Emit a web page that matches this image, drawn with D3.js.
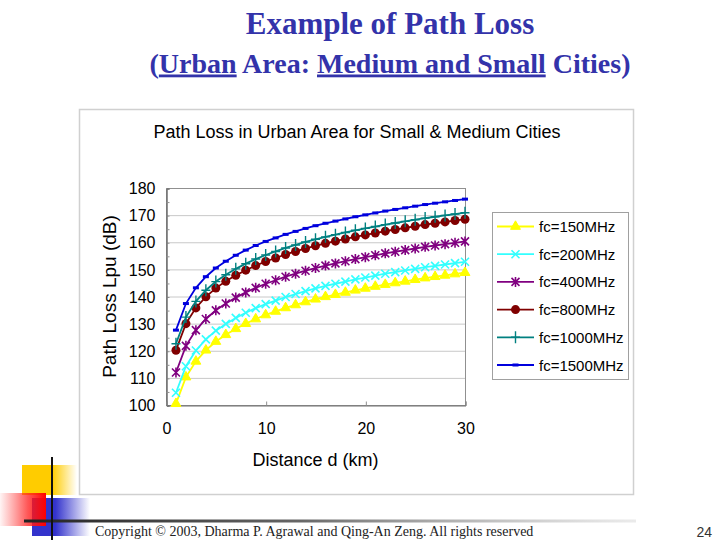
<!DOCTYPE html>
<html>
<head>
<meta charset="utf-8">
<script src="https://d3js.org/d3.v7.min.js"></script>
<style>
  body { margin: 0; background: #fff; }
</style>
</head>
<body>
<div id="chart"></div>
<script>
// distance in km (one marker per km)
var distance = [1, 2, 3, 4, 5, 6, 7, 8, 9, 10, 11, 12, 13, 14, 15,
                16, 17, 18, 19, 20, 21, 22, 23, 24, 25, 26, 27, 28, 29, 30];

// path loss (dB)
var loss150 = [100.5, 110.3, 116.1, 120.2, 123.4, 125.9, 128.1, 130.0, 131.7, 133.2, 134.5, 135.8, 136.9, 138.0, 139.0,
               139.9, 140.7, 141.5, 142.3, 143.0, 143.7, 144.4, 145.0, 145.6, 146.2, 146.8, 147.3, 147.8, 148.3, 148.8];
var loss200 = [104.5, 114.3, 120.1, 124.2, 127.4, 129.9, 132.1, 134.0, 135.7, 137.2, 138.5, 139.8, 140.9, 142.0, 143.0,
               143.9, 144.7, 145.5, 146.3, 147.0, 147.7, 148.4, 149.0, 149.6, 150.2, 150.8, 151.3, 151.8, 152.3, 152.8];
var loss400 = [112.0, 121.8, 127.6, 131.7, 134.9, 137.4, 139.6, 141.5, 143.2, 144.7, 146.0, 147.3, 148.4, 149.5, 150.5,
               151.4, 152.2, 153.0, 153.8, 154.5, 155.2, 155.9, 156.5, 157.1, 157.7, 158.3, 158.8, 159.3, 159.8, 160.3];
var loss800 = [120.2, 130.0, 135.8, 139.9, 143.1, 145.6, 147.8, 149.7, 151.4, 152.9, 154.2, 155.5, 156.6, 157.7, 158.7,
               159.6, 160.4, 161.2, 162.0, 162.7, 163.4, 164.1, 164.7, 165.3, 165.9, 166.5, 167.0, 167.5, 168.0, 168.5];
var loss1000 = [122.6, 132.4, 138.2, 142.3, 145.5, 148.0, 150.2, 152.1, 153.8, 155.3, 156.6, 157.9, 159.0, 160.1, 161.1,
                162.0, 162.8, 163.6, 164.4, 165.1, 165.8, 166.5, 167.1, 167.7, 168.3, 168.9, 169.4, 169.9, 170.4, 170.9];
var loss1500 = [127.6, 137.4, 143.2, 147.3, 150.5, 153.0, 155.2, 157.1, 158.8, 160.3, 161.6, 162.9, 164.0, 165.1, 166.1,
                167.0, 167.8, 168.6, 169.4, 170.1, 170.8, 171.5, 172.1, 172.7, 173.3, 173.9, 174.4, 174.9, 175.4, 175.9];

var seriesNames = ["fc=150MHz", "fc=200MHz", "fc=400MHz", "fc=800MHz", "fc=1000MHz", "fc=1500MHz"];
var seriesValues = [loss150, loss200, loss400, loss800, loss1000, loss1500];
var seriesColors = ["#ffff00", "#33ffff", "#800080", "#800000", "#008080", "#0000dd"];
var markerTypes = ["triangle", "cross", "star", "circle", "plus", "dash"];

var yTicks = [100, 110, 120, 130, 140, 150, 160, 170, 180];
var yMinor = [105, 115, 125, 135, 145, 155, 165, 175];
var xTicks = [0, 10, 20, 30];

var sans = "'Liberation Sans', Arial, sans-serif";
var serif = "'Liberation Serif', 'Times New Roman', serif";

var svg = d3.select("#chart")
  .append("svg")
    .attr("width", 720)
    .attr("height", 540)
    .style("background", "#fff");

var defs = svg.append("defs");
function hGrad(id, stops) {
  var g = defs.append("linearGradient").attr("id", id)
    .attr("x1", "0%").attr("x2", "100%").attr("y1", "0%").attr("y2", "0%");
  stops.forEach(function(s) {
    g.append("stop").attr("offset", s[0]).attr("stop-color", s[1]).attr("stop-opacity", s[2]);
  });
}
hGrad("gYellow", [["0%", "#ffcc00", 1], ["55%", "#ffcc00", 1], ["100%", "#ffcc00", 0]]);
hGrad("gRed", [["0%", "#ff3030", 0.05], ["60%", "#ff2020", 0.75], ["100%", "#ff0000", 1]]);
hGrad("gBlue", [["0%", "#3333cc", 1], ["40%", "#3333cc", 1], ["100%", "#3333cc", 0]]);
hGrad("gLine", [["0%", "#222222", 1], ["45%", "#666666", 1], ["100%", "#cccccc", 0.4]]);

// slide decoration, bottom left
svg.append("rect").attr("x", 22).attr("y", 465).attr("width", 55).attr("height", 30).attr("fill", "url(#gYellow)");
svg.append("rect").attr("x", 32).attr("y", 498).attr("width", 58).attr("height", 38).attr("fill", "url(#gBlue)");
svg.append("rect").attr("x", 0).attr("y", 493).attr("width", 46).attr("height", 33).attr("fill", "url(#gRed)");
svg.append("rect").attr("x", 24).attr("y", 519.5).attr("width", 612).attr("height", 3).attr("fill", "url(#gLine)");
svg.append("line").attr("x1", 52).attr("x2", 52).attr("y1", 457).attr("y2", 540)
  .attr("stroke", "#111").attr("stroke-width", 2);

// slide title
var t1 = svg.append("text")
  .attr("x", 390).attr("y", 34)
  .attr("text-anchor", "middle")
  .style("font-family", serif).style("font-weight", "bold").style("font-size", "31px")
  .attr("fill", "#3333aa")
  .text("Example of Path Loss");

var t2 = svg.append("text")
  .attr("x", 390).attr("y", 72.5)
  .attr("text-anchor", "middle")
  .style("font-family", serif).style("font-weight", "bold").style("font-size", "28px")
  .attr("fill", "#3333aa");
t2.append("tspan").text("(");
t2.append("tspan").style("text-decoration", "underline").text("Urban");
t2.append("tspan").text(" Area: ");
t2.append("tspan").style("text-decoration", "underline").text("Medium and Small");
t2.append("tspan").text(" Cities)");

// footer
svg.append("text")
  .attr("x", 95).attr("y", 536)
  .style("font-family", serif).style("font-size", "14px")
  .attr("fill", "#222")
  .text("Copyright \u00a9 2003, Dharma P. Agrawal and Qing-An Zeng. All rights reserved");
svg.append("text")
  .attr("x", 712).attr("y", 537)
  .attr("text-anchor", "end")
  .style("font-family", sans).style("font-size", "14px")
  .attr("fill", "#333")
  .text("24");

// chart frame
svg.append("rect")
  .attr("x", 79.5).attr("y", 109.5).attr("width", 554).attr("height", 385)
  .attr("fill", "#fff").attr("stroke", "#d0d0d0").attr("stroke-width", 1.5);

svg.append("text")
  .attr("x", 357).attr("y", 138)
  .attr("text-anchor", "middle")
  .style("font-family", sans).style("font-size", "18px")
  .attr("fill", "#000")
  .text("Path Loss in Urban Area for Small & Medium Cities");

// plot area
var x = d3.scaleLinear().domain([0, 30]).range([166, 465]);
var y = d3.scaleLinear().domain([100, 180]).range([405, 188]);

svg.append("g")
  .selectAll("line")
  .data(yTicks.slice(1))
  .enter()
  .append("line")
    .attr("x1", x(0)).attr("x2", x(30))
    .attr("y1", function(d) { return y(d) + 0.5 })
    .attr("y2", function(d) { return y(d) + 0.5 })
    .attr("stroke", "#c8c8c8");

svg.append("rect")
  .attr("x", x(0) + 0.5).attr("y", y(180) + 0.5)
  .attr("width", x(30) - x(0)).attr("height", y(100) - y(180))
  .attr("fill", "none").attr("stroke", "#909090");

var yAxis = svg.append("g")
  .attr("transform", "translate(" + (x(0) + 0.5) + ",0.5)")
  .call(d3.axisLeft(y).tickValues(yTicks).tickSize(-3).tickPadding(11));
svg.append("g")
  .attr("transform", "translate(" + (x(0) + 0.5) + ",0.5)")
  .call(d3.axisLeft(y).tickValues(yMinor).tickSize(-3).tickFormat(""));

var xAxis = svg.append("g")
  .attr("transform", "translate(0.5," + (y(100) + 0.5) + ")")
  .call(d3.axisBottom(x).tickValues(xTicks).tickSize(-4).tickPadding(17));

svg.selectAll(".domain").attr("stroke", "#707070");
svg.selectAll(".tick line").attr("stroke", "#909090");
svg.selectAll(".tick text")
  .style("font-family", sans).style("font-size", "16px").attr("fill", "#000");

svg.append("text")
  .attr("transform", "translate(116," + ((y(100) + y(180)) / 2) + ") rotate(-90)")
  .attr("text-anchor", "middle")
  .style("font-family", sans).style("font-size", "19px")
  .text("Path Loss Lpu (dB)");

svg.append("text")
  .attr("x", (x(0) + x(30)) / 2).attr("y", 466)
  .attr("text-anchor", "middle")
  .style("font-family", sans).style("font-size", "18px")
  .text("Distance d (km)");

function drawMarker(g, type, color) {
  if (type == "triangle") {
    g.append("path").attr("d", d3.symbol(d3.symbolTriangle, 42)()).attr("fill", color).attr("stroke", color);
  } else if (type == "circle") {
    g.append("circle").attr("r", 4.5).attr("fill", color);
  } else if (type == "cross") {
    g.append("path").attr("d", "M-4,-4L4,4M-4,4L4,-4").attr("stroke", color).attr("stroke-width", 1.6);
  } else if (type == "star") {
    g.append("path").attr("d", "M-4,-4L4,4M-4,4L4,-4M0,-5L0,5").attr("stroke", color).attr("stroke-width", 1.6);
  } else if (type == "plus") {
    g.append("path").attr("d", "M-4.5,0L4.5,0M0,-6L0,6").attr("stroke", color).attr("stroke-width", 1.4);
  } else if (type == "dash") {
    g.append("rect").attr("x", -3).attr("y", -1.5).attr("width", 6).attr("height", 3).attr("fill", color);
  }
}

var line = d3.line()
  .x(function(d, i) { return x(distance[i]) })
  .y(function(d) { return y(d) });

seriesValues.forEach(function(vals, k) {
  var s = svg.append("g");
  s.append("path")
    .attr("d", line(vals))
    .attr("fill", "none")
    .attr("stroke", seriesColors[k])
    .attr("stroke-width", 1.8);
  s.selectAll("g")
    .data(vals)
    .enter()
    .append("g")
      .attr("transform", function(d, i) { return "translate(" + x(distance[i]) + "," + y(d) + ")" })
      .each(function() { drawMarker(d3.select(this), markerTypes[k], seriesColors[k]) });
});

// legend
var legend = svg.append("g");
legend.append("rect")
  .attr("x", 492.5).attr("y", 212.5).attr("width", 136).attr("height", 167)
  .attr("fill", "#fff").attr("stroke", "#a0a0a0");

seriesNames.forEach(function(name, k) {
  var ly = 226.5 + k * 27.7;
  var item = legend.append("g").attr("transform", "translate(0," + ly + ")");
  item.append("line").attr("x1", 497).attr("x2", 534)
    .attr("stroke", seriesColors[k]).attr("stroke-width", 1.8);
  var m = item.append("g").attr("transform", "translate(515.5,0)");
  drawMarker(m, markerTypes[k], seriesColors[k]);
  item.append("text")
    .attr("x", 539).attr("y", 5.5)
    .style("font-family", sans).style("font-size", "15px")
    .text(name);
});
</script>
</body>
</html>
